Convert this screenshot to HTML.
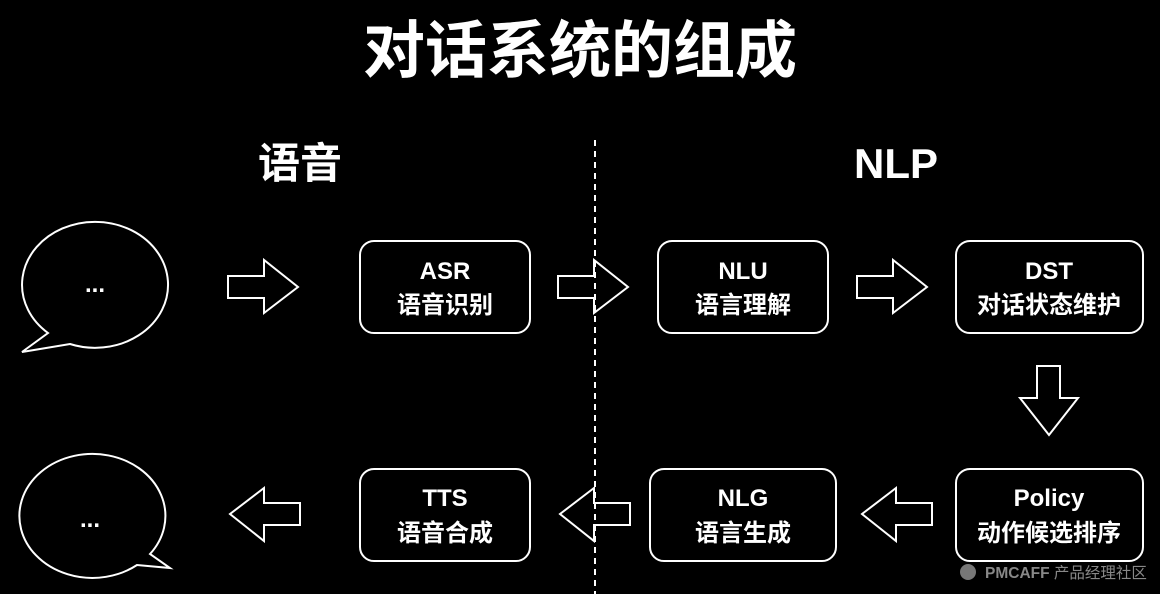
<!DOCTYPE html>
<html><head><meta charset="utf-8"><style>
html,body{margin:0;padding:0;background:#000;overflow:hidden}
svg{display:block}
text{font-family:"Liberation Sans","Noto Sans CJK SC",sans-serif;fill:#fff;font-weight:bold}
</style></head><body>
<svg width="1160" height="594" viewBox="0 0 1160 594" xmlns="http://www.w3.org/2000/svg">
<rect width="1160" height="594" fill="#000"/>
<text x="580" y="72" font-size="62" text-anchor="middle">对话系统的组成</text>
<text x="300" y="178" font-size="42" text-anchor="middle">语音</text>
<text x="896" y="178" font-size="42" text-anchor="middle">NLP</text>
<line x1="595" y1="140" x2="595" y2="594" stroke="#fff" stroke-width="2" stroke-dasharray="6,5"/>
<g fill="none" stroke="#fff" stroke-width="2">
<path d="M70,344 A73,63 0 1 0 48,333 L22,352 Z"/>
<path d="M150,554 A73,62 0 1 0 137,565 L170,568 Z"/>
<rect x="360" y="241" width="170" height="92" rx="14"/>
<rect x="658" y="241" width="170" height="92" rx="14"/>
<rect x="956" y="241" width="187" height="92" rx="14"/>
<rect x="360" y="469" width="170" height="92" rx="14"/>
<rect x="650" y="469" width="186" height="92" rx="14"/>
<rect x="956" y="469" width="187" height="92" rx="14"/>
<path d="M228,276 H264 V260 L298,287 L264,313 V298 H228 Z"/>
<path d="M558,276 H594 V260 L628,287 L594,313 V298 H558 Z"/>
<path d="M857,276 H893 V260 L927,287 L893,313 V298 H857 Z"/>
<path d="M300,503 H264 V488 L230,514 L264,541 V525 H300 Z"/>
<path d="M630,503 H594 V488 L560,514 L594,541 V525 H630 Z"/>
<path d="M932,503 H896 V488 L862,514 L896,541 V525 H932 Z"/>
<path d="M1037,366 V398 H1020 L1049,435 L1078,398 H1060 V366 Z"/>
</g>
<text x="95" y="292" font-size="24" text-anchor="middle">...</text>
<text x="90" y="527" font-size="24" text-anchor="middle">...</text>
<g font-size="24" text-anchor="middle">
<text x="445" y="279">ASR</text><text x="445" y="313">语音识别</text>
<text x="743" y="279">NLU</text><text x="743" y="313">语言理解</text>
<text x="1049" y="279">DST</text><text x="1049" y="313">对话状态维护</text>
<text x="445" y="506">TTS</text><text x="445" y="541">语音合成</text>
<text x="743" y="506">NLG</text><text x="743" y="541">语言生成</text>
<text x="1049" y="506">Policy</text><text x="1049" y="541">动作候选排序</text>
</g>
<circle cx="968" cy="572" r="8" fill="#777"/>
<text x="985" y="578" font-size="15.5" style="fill:#888">PMCAFF <tspan font-weight="normal">产品经理社区</tspan></text>
</svg>
</body></html>
